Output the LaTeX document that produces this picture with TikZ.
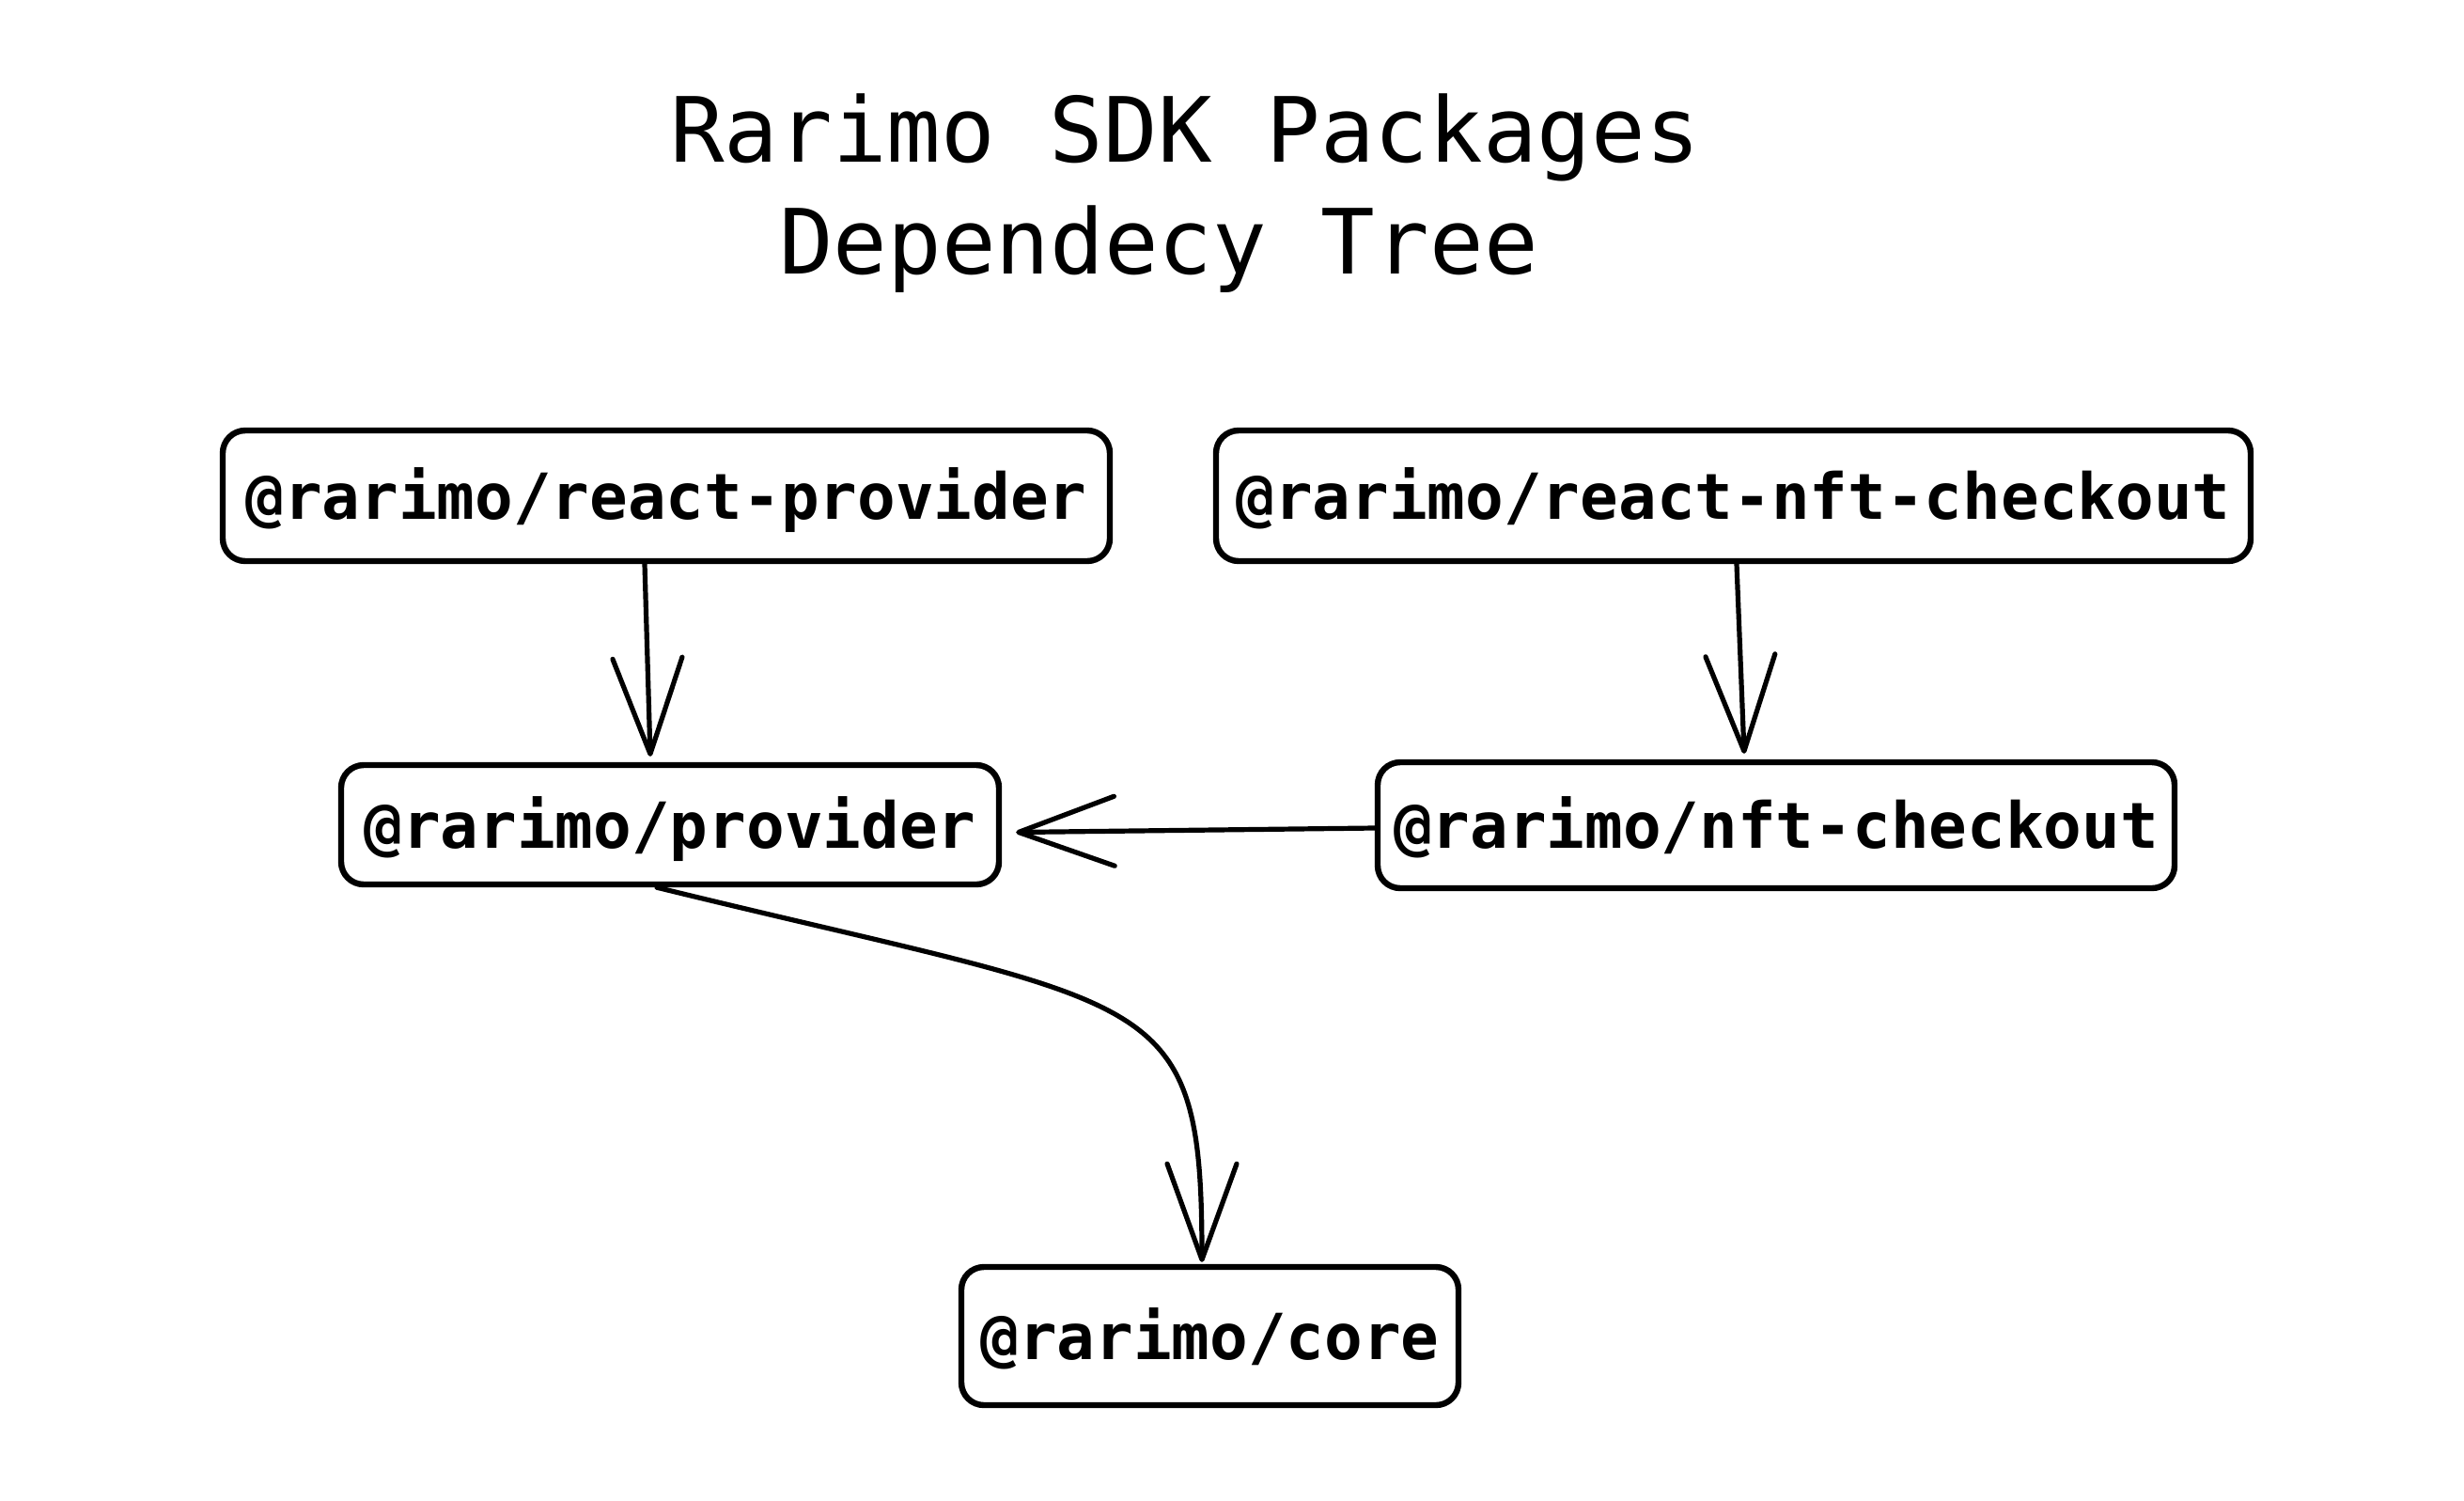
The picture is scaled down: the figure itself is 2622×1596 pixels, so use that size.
\documentclass[tikz,border=0pt]{standalone}
\usepackage{fontspec}
\setmainfont{DejaVu Sans Mono}
\usetikzlibrary{arrows.meta,calc}
\begin{document}
\begin{tikzpicture}[x=0.5pt,y=-0.5pt,
  pkg/.style={draw=black, line width=3.2pt, rounded corners=12pt, inner sep=0pt,
    font=\fontsize{33.8pt}{40pt}\selectfont\bfseries, text height=24.6pt, text depth=0pt},
  dep/.style={draw=black, line width=2.6pt, line cap=round,
    -{Straight Barb[length=51pt,width=37pt,round]}},
  ttl/.style={font=\fontsize{47.9pt}{58pt}\selectfont, inner sep=0pt, anchor=base}]
\useasboundingbox[fill=white] (0,0) rectangle (2622,1596);
\node[ttl] (t1) at (1261,172) {Rarimo SDK Packages};
\node[ttl] (t2) at (1233,291) {Dependecy Tree};
\node[pkg, minimum width=472pt, minimum height=69.5pt] (rp) at (709,527.5) {@rarimo/react-provider};
\node[pkg, minimum width=550.5pt, minimum height=69.5pt] (rnc) at (1844.5,527.5) {@rarimo/react-nft-checkout};
\node[pkg, minimum width=350pt, minimum height=63.5pt] (prov) at (713,877.5) {@rarimo/provider};
\node[pkg, minimum width=424pt, minimum height=67pt] (nc) at (1890,878) {@rarimo/nft-checkout};
\node[pkg, minimum width=264.5pt, minimum height=73.5pt] (core) at (1287.5,1421.5) {@rarimo/core};
\draw[dep] ($(rp.south)+(-23,0)$) -- ($(prov.north)+(-21,-6)$);
\draw[dep] ($(rnc.south)+(3.5,0)$) -- ($(nc.north)+(-34,-6)$);
\draw[dep] ($(nc.west)+(0,3)$) -- ($(prov.east)+(15,8)$);
\draw[dep] ($(prov.south)+(-14,0)$) .. controls (1233,1075) and (1279,1046) .. ($(core.north)+(-8.5,-2)$);
\end{tikzpicture}
\end{document}
